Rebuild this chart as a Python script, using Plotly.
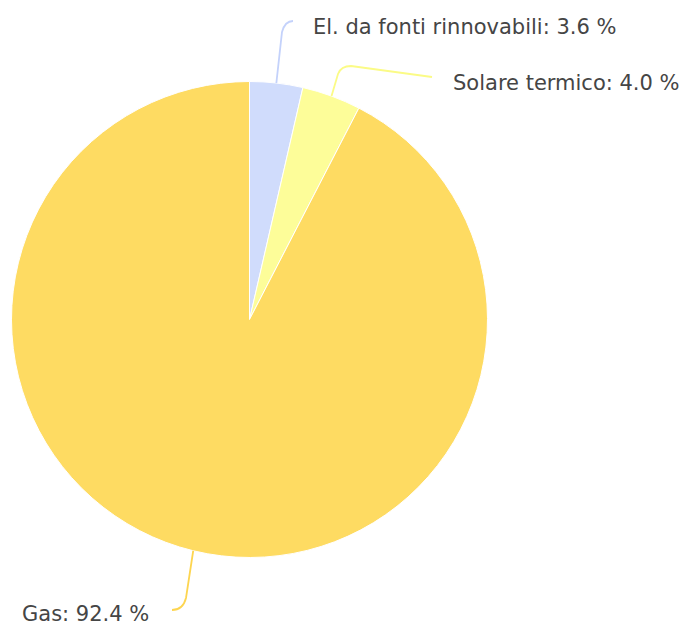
import math
import plotly.graph_objects as go

W, H = 684, 627

labels = ["El. da fonti rinnovabili", "Solare termico", "Gas"]
values = [3.6, 4.0, 92.4]
colors = ["#d0dcfc", "#fdfd99", "#fedb62"]
line_colors = ["#c4d2fb", "#fbfb86", "#fdd550"]

# pie geometry in pixels
cx, cy, R = 249.5, 319.5, 238.0

# label layout (pixels): text anchor x, text center y, xanchor
label_pos = [
    (311, 27, "left"),
    (451, 83, "left"),
    (151, 614, "right"),
]
# connector bend/end points (pixels)
conn = [
    [(282, 32), (285, 21), (293, 21)],
    [(338, 74), (341, 66), (351, 66), (432, 77)],
    [(186, 598), (183, 610), (172, 610)],
]

def px(x, y):
    return x / W, 1 - y / H

fig = go.Figure(go.Pie(
    labels=labels, values=values, sort=False, direction="clockwise", rotation=0,
    marker=dict(colors=colors, line=dict(color="#ffffff", width=1)),
    textinfo="none", hoverinfo="label+percent", showlegend=False,
    domain=dict(x=[(cx - R) / W, (cx + R) / W], y=[1 - (cy + R) / H, 1 - (cy - R) / H]),
))

total = sum(values)
cum = 0.0
shapes, annotations = [], []
for i, (lab, v) in enumerate(zip(labels, values)):
    mid = (cum + v / 2) / total * 2 * math.pi
    cum += v
    ex, ey = cx + R * math.sin(mid), cy - R * math.cos(mid)
    pts = conn[i]
    def f(p):
        a, b = px(*p)
        return f"{a:.5f},{b:.5f}"
    path = f"M {f((ex, ey))} L {f(pts[0])} Q {f(pts[1])} {f(pts[2])}"
    for extra in pts[3:]:
        path += f" L {f(extra)}"
    shapes.append(dict(type="path", xref="paper", yref="paper", path=path,
                       line=dict(color=line_colors[i], width=1.8)))
    tx, ty, anc = label_pos[i]
    ax_, ay_ = px(tx, ty)
    annotations.append(dict(x=ax_, y=ay_, xref="paper", yref="paper",
                            text=f"{lab}: {v:.1f} %", showarrow=False,
                            xanchor=anc, yanchor="middle",
                            font=dict(family="DejaVu Sans", size=21, color="#454545")))

fig.update_layout(width=W, height=H, margin=dict(l=0, r=0, t=0, b=0),
                  paper_bgcolor="white", plot_bgcolor="white",
                  shapes=shapes, annotations=annotations)
fig.write_html("out.html", config={"displayModeBar": False})

# remove default body margin so the figure sits at the window's top-left
with open("out.html", "r", encoding="utf-8") as fh:
    html = fh.read()
html = html.replace("<body>", '<body style="margin:0;padding:0;overflow:hidden">', 1)
with open("out.html", "w", encoding="utf-8") as fh:
    fh.write(html)
